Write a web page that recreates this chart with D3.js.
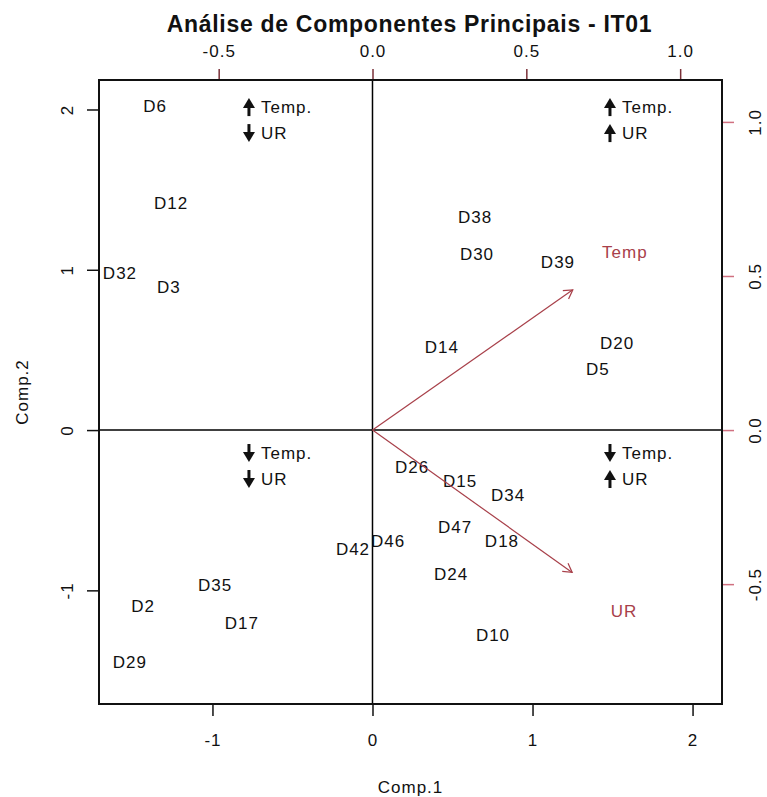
<!DOCTYPE html>
<html>
<head>
<meta charset="utf-8">
<script src="https://cdn.jsdelivr.net/npm/d3@7"></script>
<style>
  html, body { margin: 0; padding: 0; background: #fff; }
  svg { display: block; font-family: "Liberation Sans", Arial, sans-serif; }
</style>
</head>
<body>
<svg id="chart" width="767" height="797"></svg>
<script>
// ---- Data ----
const obsLabels = ["D6","D12","D32","D3","D38","D30","D39","D14","D20","D5","D26","D15","D34","D47","D18","D46","D42","D24","D10","D35","D2","D17","D29"];
const comp1 = [-1.359,-1.259,-1.578,-1.272,0.641,0.653,1.159,0.434,1.528,1.409,0.247,0.547,0.847,0.516,0.809,0.097,-0.122,0.491,0.753,-0.984,-1.434,-0.816,-1.516];
const comp2 = [2.021,1.416,0.979,0.892,1.329,1.098,1.048,0.518,0.543,0.381,-0.231,-0.318,-0.405,-0.605,-0.692,-0.692,-0.742,-0.898,-1.279,-0.967,-1.098,-1.204,-1.447];

const varNames = ["Temp","UR"];
const load1 = [0.651, 0.649];
const load2 = [0.455, -0.462];

const scoreTicks = [-1, 0, 1, 2];
const loadTicks = [-0.5, 0.0, 0.5, 1.0];

// quadrant notes: position (Comp.1, Comp.2), direction of Temp and UR
const noteX = [-0.772, 1.484, -0.772, 1.484];
const noteY = [2.015, 2.015, -0.143, -0.143];
const noteTemp = ["up", "up", "down", "down"];
const noteUR = ["down", "up", "down", "up"];
const noteText = ["Temp.", "UR"];

const titleText = "Análise de Componentes Principais - IT01";
const xLabel = "Comp.1";
const yLabel = "Comp.2";

// ---- Layout ----
const L = 99, R = 722, T = 80, B = 704;
const lim = [-1.709, 2.184];
const limLoad = [-0.889, 1.136];
const arrowCol = "#a8404a";

const svg = d3.select("#chart");
const x = d3.scaleLinear().domain(lim).range([L, R]);
const y = d3.scaleLinear().domain(lim).range([B, T]);
const xl = d3.scaleLinear().domain(limLoad).range([L, R]);
const yl = d3.scaleLinear().domain(limLoad).range([B, T]);

const fs = 17;

// title
svg.append("text").attr("x", (L + R) / 2 - 1).attr("y", 32)
  .attr("text-anchor", "middle").attr("font-size", 23).attr("font-weight", "bold")
  .attr("letter-spacing", 0.7).attr("fill", "#111").text(titleText);

// zero lines
svg.append("line").attr("x1", L).attr("x2", R).attr("y1", y(0)).attr("y2", y(0))
  .attr("stroke", "#000").attr("stroke-width", 1.5);
svg.append("line").attr("x1", x(0)).attr("x2", x(0)).attr("y1", T).attr("y2", B)
  .attr("stroke", "#000").attr("stroke-width", 1.5);

// axes
function styleAxis(g, tickColor) {
  g.select(".domain").remove();
  g.selectAll(".tick line").attr("stroke", tickColor).attr("stroke-width", 1.5);
  g.selectAll(".tick text").attr("font-size", fs).attr("letter-spacing", 1)
    .attr("fill", "#111").attr("font-family", "Liberation Sans, Arial, sans-serif");
}
const fmtInt = d => String(d);
const fmt1 = d => d.toFixed(1);

const gB = svg.append("g").attr("transform", `translate(0,${B})`)
  .call(d3.axisBottom(x).tickValues(scoreTicks).tickSize(12).tickPadding(18).tickFormat(fmtInt));
styleAxis(gB, "#111");

const gL = svg.append("g").attr("transform", `translate(${L},0)`)
  .call(d3.axisLeft(y).tickValues(scoreTicks).tickSize(12).tickPadding(0).tickFormat(fmtInt));
styleAxis(gL, "#111");
gL.selectAll(".tick text").attr("x", 0)
  .attr("text-anchor", "middle")
  .attr("transform", "translate(-32,0) rotate(-90)").attr("dy", "0.35em");

const gT = svg.append("g").attr("transform", `translate(0,${T})`)
  .call(d3.axisTop(xl).tickValues(loadTicks).tickSize(11).tickPadding(12).tickFormat(fmt1));
styleAxis(gT, "#7a3038");

const gR = svg.append("g").attr("transform", `translate(${R},0)`)
  .call(d3.axisRight(yl).tickValues(loadTicks).tickSize(12).tickPadding(0).tickFormat(fmt1));
styleAxis(gR, "#d07080");
gR.selectAll(".tick text").attr("x", 0).attr("text-anchor", "middle")
  .attr("transform", "translate(33,0) rotate(-90)").attr("dy", "0.35em");

// box
svg.append("rect").attr("x", L).attr("y", T).attr("width", R - L).attr("height", B - T)
  .attr("fill", "none").attr("stroke", "#111").attr("stroke-width", 2);

// axis titles
svg.append("text").attr("x", (L + R) / 2).attr("y", 787).attr("dy", "0.35em")
  .attr("text-anchor", "middle").attr("font-size", fs).attr("letter-spacing", 1)
  .attr("fill", "#111").text(xLabel);
svg.append("text").attr("transform", `translate(22,${(T + B) / 2}) rotate(-90)`)
  .attr("dy", "0.35em").attr("text-anchor", "middle").attr("font-size", fs)
  .attr("letter-spacing", 1).attr("fill", "#111").text(yLabel);

// observation labels
svg.append("g").selectAll("text").data(obsLabels).join("text")
  .attr("x", (d, i) => x(comp1[i])).attr("y", (d, i) => y(comp2[i]))
  .attr("dy", "0.35em").attr("text-anchor", "middle")
  .attr("font-size", fs).attr("letter-spacing", 1).attr("fill", "#111")
  .text(d => d);

// variable arrows
const ga = svg.append("g");
varNames.forEach((name, i) => {
  const x0 = xl(0), y0 = yl(0), x1 = xl(load1[i]), y1 = yl(load2[i]);
  ga.append("line").attr("x1", x0).attr("y1", y0).attr("x2", x1).attr("y2", y1)
    .attr("stroke", arrowCol).attr("stroke-width", 1.2);
  const ang = Math.atan2(y1 - y0, x1 - x0);
  const hl = 10, ha = Math.PI / 6;
  const p = [
    [x1 - hl * Math.cos(ang - ha), y1 - hl * Math.sin(ang - ha)],
    [x1, y1],
    [x1 - hl * Math.cos(ang + ha), y1 - hl * Math.sin(ang + ha)]
  ];
  ga.append("path").attr("d", d3.line()(p)).attr("fill", "none")
    .attr("stroke", arrowCol).attr("stroke-width", 1.2);
  ga.append("text").attr("x", xl(load1[i] * 1.26)).attr("y", yl(load2[i] * 1.27))
    .attr("dy", "0.35em").attr("text-anchor", "middle").attr("font-size", fs)
    .attr("letter-spacing", 1).attr("fill", arrowCol).text(name);
});

// quadrant notes
function arrowGlyph(g, cx, cy, dir) {
  const s = dir === "up" ? -1 : 1;
  // stem
  g.append("line").attr("x1", cx).attr("x2", cx)
    .attr("y1", cy - s * 9).attr("y2", cy + s * 2)
    .attr("stroke", "#111").attr("stroke-width", 3);
  // head
  g.append("path").attr("d", d3.line()([[cx - 6, cy - s * 1], [cx + 6, cy - s * 1], [cx, cy + s * 9]]) + "Z")
    .attr("fill", "#111");
}
const gn = svg.append("g");
noteX.forEach((nx, i) => {
  const cx = x(nx), cy = y(noteY[i]);
  const dy2 = 26;
  arrowGlyph(gn, cx, cy, noteTemp[i]);
  arrowGlyph(gn, cx, cy + dy2, noteUR[i]);
  gn.append("text").attr("x", cx + 12).attr("y", cy).attr("dy", "0.35em")
    .attr("font-size", fs).attr("letter-spacing", 1).attr("fill", "#111").text(noteText[0]);
  gn.append("text").attr("x", cx + 12).attr("y", cy + dy2).attr("dy", "0.35em")
    .attr("font-size", fs).attr("letter-spacing", 1).attr("fill", "#111").text(noteText[1]);
});
</script>
</body>
</html>
